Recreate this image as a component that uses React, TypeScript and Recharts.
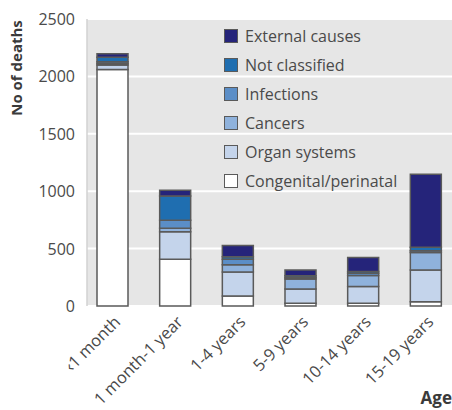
import React from 'react';
import { BarChart, Bar, XAxis, YAxis, CartesianGrid, Label } from 'recharts';

// Age groups along the x axis
const ageGroups = ['‹1 month', '1 month-1 year', '1-4 years', '5-9 years', '10-14 years', '15-19 years'];

// Deaths by cause, one value per age group
const congenital = [2060, 407, 87, 23, 25, 38];
const organSystems = [40, 240, 209, 125, 145, 276];
const cancers = [12, 30, 64, 87, 96, 151];
const infections = [15, 70, 47, 14, 20, 17];
const notClassified = [40, 212, 23, 14, 14, 29];
const externalCauses = [30, 50, 96, 50, 122, 636];

const yTicks = [0, 500, 1000, 1500, 2000, 2500];

const series = [
    { key: 'congenital', name: 'Congenital/perinatal', color: '#ffffff' },
    { key: 'organ', name: 'Organ systems', color: '#c4d4eb' },
    { key: 'cancers', name: 'Cancers', color: '#8fb2dc' },
    { key: 'infections', name: 'Infections', color: '#5b8ec7' },
    { key: 'notClassified', name: 'Not classified', color: '#1f6eb0' },
    { key: 'external', name: 'External causes', color: '#25247a' },
];

const data = ageGroups.map((age, i) => ({
    age,
    congenital: congenital[i],
    organ: organSystems[i],
    cancers: cancers[i],
    infections: infections[i],
    notClassified: notClassified[i],
    external: externalCauses[i],
}));

const FONT = '"Open Sans", sans-serif';
const TEXT = '#4a4a4a';

const YTick = (props: any) => {
    const { x, y, payload } = props;
    return (
        <text x={x - 4} y={y + 6} textAnchor="end" fontSize={16} fill={TEXT} fontFamily={FONT}>
            {payload.value}
        </text>
    );
};

const XTick = (props: any) => {
    const { x, y, payload } = props;
    return (
        <g transform={`translate(${x + 9},${y + 9}) rotate(-45)`}>
            <text x={0} y={0} textAnchor="end" fontSize={16.5} fill={TEXT} fontFamily={FONT}>
                {payload.value}
            </text>
        </g>
    );
};

// legend drawn as an overlay so it doesn't take room from the plot
const LegendBox = () => {
    const items = [...series].reverse();
    return (
        <div style={{ position: 'absolute', left: 224, top: 21, fontFamily: FONT, pointerEvents: 'none' }}>
            {items.map((s) => (
                <div key={s.key} style={{ display: 'flex', alignItems: 'center', height: 29 }}>
                    <span style={{
                        width: 14, height: 14, background: s.color, border: '1.5px solid #5a5a5a',
                        boxSizing: 'border-box', marginRight: 7, display: 'inline-block',
                    }} />
                    <span style={{ fontSize: 16, color: TEXT, whiteSpace: 'nowrap' }}>{s.name}</span>
                </div>
            ))}
        </div>
    );
};

const App: React.FC = () => {
    return (
        <div style={{ position: 'absolute', left: 0, top: 0, width: 452, height: 410, overflow: 'hidden', background: '#fff' }}>
            <BarChart width={452} height={410} data={data} margin={{ top: 19, right: 0, bottom: 0, left: 0 }} barSize={31}>
                <CartesianGrid fill="#e6e6e6" stroke="#ffffff" strokeWidth={2} vertical={false} />
                <XAxis
                    dataKey="age"
                    height={104}
                    axisLine={false}
                    tickLine={false}
                    interval={0}
                    padding={{ left: -6, right: -5 }}
                    tick={<XTick />}
                >
                    <Label
                        content={() => (
                            <text x={452} y={404} textAnchor="end" fontSize={17} fontWeight="bold" fill="#3a3a3a" fontFamily={FONT}>
                                Age
                            </text>
                        )}
                    />
                </XAxis>
                <YAxis
                    width={87}
                    domain={[0, 2500]}
                    ticks={yTicks}
                    interval={0}
                    axisLine={{ stroke: '#d2d2d2', strokeWidth: 1.5 }}
                    tickLine={false}
                    tick={<YTick />}
                >
                    <Label
                        content={() => (
                            <text x={22} y={68} textAnchor="middle" fontSize={15} fontWeight="bold" fill="#3a3a3a"
                                fontFamily={FONT} transform="rotate(-90, 22, 68)">
                                No of deaths
                            </text>
                        )}
                    />
                </YAxis>
                {series.map((s) => (
                    <Bar
                        key={s.key}
                        dataKey={s.key}
                        name={s.name}
                        stackId="a"
                        fill={s.color}
                        stroke="#5a5a5a"
                        strokeWidth={1.5}
                        isAnimationActive={false}
                    />
                ))}
            </BarChart>
            <LegendBox />
        </div>
    );
};

export default App;
